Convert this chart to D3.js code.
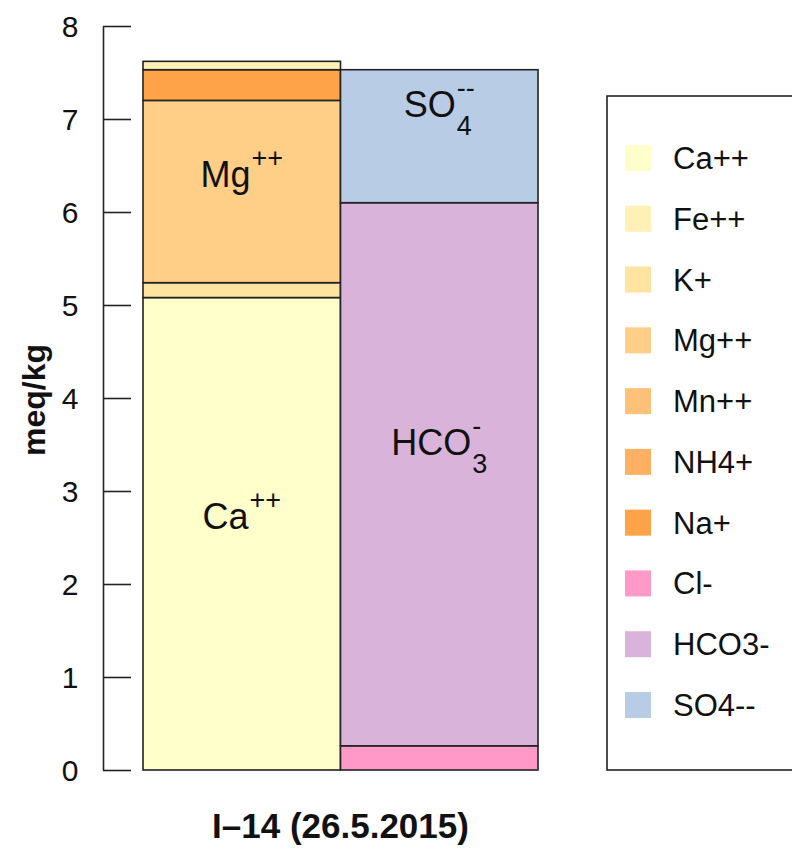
<!DOCTYPE html>
<html>
<head>
<meta charset="utf-8">
<script src="https://cdn.jsdelivr.net/npm/d3@7"></script>
<style>
  body { margin: 0; background: #fff; }
  svg { font-family: "Liberation Sans", Arial, sans-serif; }
</style>
</head>
<body>
<svg id="chart" width="792" height="848"></svg>
<script>
// ion balance of one sample, meq/kg
const bars = ["cations", "anions"];
const cationNames = ["Ca++", "K+", "Mg++", "Mn++", "NH4+", "Na+", "Fe++"];
const cationValues = [5.08, 0.16, 1.96, 0, 0, 0.33, 0.09];
const anionNames = ["Cl-", "HCO3-", "SO4--"];
const anionValues = [0.26, 5.84, 1.43];

const legendNames = ["Ca++", "Fe++", "K+", "Mg++", "Mn++", "NH4+", "Na+", "Cl-", "HCO3-", "SO4--"];
const legendColors = ["#ffffcc", "#fff0b6", "#ffe3a0", "#ffcf88", "#ffc078", "#ffb062", "#ffa348", "#ff99c8", "#d9b3d9", "#b9cce6"];

// labels drawn in the bars: base, superscript, subscript
const barLabels = [
  {ion: "Ca++", base: "Ca", sup: "++", sub: ""},
  {ion: "Mg++", base: "Mg", sup: "++", sub: ""},
  {ion: "HCO3-", base: "HCO", sup: "-", sub: "3"},
  {ion: "SO4--", base: "SO", sup: "--", sub: "4"}
];

const yTicks = [0, 1, 2, 3, 4, 5, 6, 7, 8];
const xTitle = "I\u201314 (26.5.2015)";
const yTitle = "meq/kg";

const svg = d3.select("#chart");
const color = d3.scaleOrdinal().domain(legendNames).range(legendColors);

const y = d3.scaleLinear().domain([0, 8]).range([770, 26]);
const x = d3.scaleBand().domain(bars).range([143, 538]).padding(0);

// stack segments
function stackUp(names, values, bar) {
  let acc = 0;
  return names.map((n, i) => {
    const seg = {name: n, bar: bar, y0: acc, y1: acc + values[i]};
    acc += values[i];
    return seg;
  }).filter(d => d.y1 > d.y0);
}
const segments = stackUp(cationNames, cationValues, "cations")
  .concat(stackUp(anionNames, anionValues, "anions"));

const g = svg.append("g");

g.selectAll("rect.seg")
  .data(segments)
  .enter()
  .append("rect")
  .attr("class", "seg")
  .attr("x", d => x(d.bar))
  .attr("width", x.bandwidth())
  .attr("y", d => y(d.y1))
  .attr("height", d => y(d.y0) - y(d.y1))
  .attr("fill", d => color(d.name))
  .attr("stroke", "#222")
  .attr("stroke-width", 1.6);

// labels in segments
const labelG = g.append("g");
barLabels.forEach(l => {
  const seg = segments.find(s => s.name === l.ion);
  const cx = x(seg.bar) + x.bandwidth() / 2;
  const mid = y((seg.y0 + seg.y1) / 2);
  const baseY = l.sub ? mid - 19 : mid - 5;
  const t = labelG.append("g");
  const base = t.append("text")
    .attr("y", baseY)
    .attr("font-size", 36)
    .attr("fill", "#111")
    .text(l.base);
  const bw = base.node().getComputedTextLength();
  const sup = t.append("text")
    .attr("x", bw + 1)
    .attr("y", baseY - 20)
    .attr("font-size", 27)
    .attr("fill", "#111")
    .text(l.sup);
  let w = bw + 1 + sup.node().getComputedTextLength();
  if (l.sub) {
    const sub = t.append("text")
      .attr("x", bw + 1)
      .attr("y", baseY + 18)
      .attr("font-size", 27)
      .attr("fill", "#111")
      .text(l.sub);
    w = Math.max(w, bw + 1 + sub.node().getComputedTextLength());
  }
  t.attr("transform", `translate(${cx - w / 2},0)`);
});

// y axis, ticks pointing inward like the original
const yAxis = d3.axisLeft(y)
  .tickValues(yTicks)
  .tickSizeInner(-28)
  .tickSizeOuter(0)
  .tickPadding(22);

const axisG = svg.append("g")
  .attr("transform", "translate(103,0)")
  .call(yAxis);
axisG.select(".domain").attr("stroke", "#222").attr("stroke-width", 1.6);
axisG.selectAll(".tick line").attr("stroke", "#222").attr("stroke-width", 1.6);
axisG.selectAll(".tick text")
  .attr("font-size", 30)
  .attr("font-family", "Liberation Sans, Arial, sans-serif")
  .attr("fill", "#111")
  .attr("text-anchor", "middle")
  .attr("x", -33)
  .attr("dy", "0.34em");

svg.append("text")
  .attr("transform", "translate(45,400) rotate(-90)")
  .attr("text-anchor", "middle")
  .attr("font-size", 32)
  .attr("font-weight", "bold")
  .attr("fill", "#111")
  .text(yTitle);

svg.append("text")
  .attr("x", x.range()[0] + (x.range()[1] - x.range()[0]) / 2)
  .attr("y", 838)
  .attr("text-anchor", "middle")
  .attr("font-size", 35)
  .attr("font-weight", "bold")
  .attr("fill", "#111")
  .text(xTitle);

// legend
const legend = svg.append("g").attr("transform", "translate(607,96)");
legend.append("rect")
  .attr("x", 0)
  .attr("y", 0)
  .attr("width", 200)
  .attr("height", 674)
  .attr("fill", "none")
  .attr("stroke", "#222")
  .attr("stroke-width", 1.6);

const rowY = d3.scalePoint().domain(legendNames).range([62, 609]);
const items = legend.selectAll("g.item")
  .data(legendNames)
  .enter()
  .append("g")
  .attr("class", "item")
  .attr("transform", d => `translate(0,${rowY(d)})`);
items.append("rect")
  .attr("x", 18)
  .attr("y", -13)
  .attr("width", 26)
  .attr("height", 26)
  .attr("fill", d => color(d));
items.append("text")
  .attr("x", 66)
  .attr("y", 11)
  .attr("font-size", 31)
  .attr("fill", "#111")
  .text(d => d);
</script>
</body>
</html>
